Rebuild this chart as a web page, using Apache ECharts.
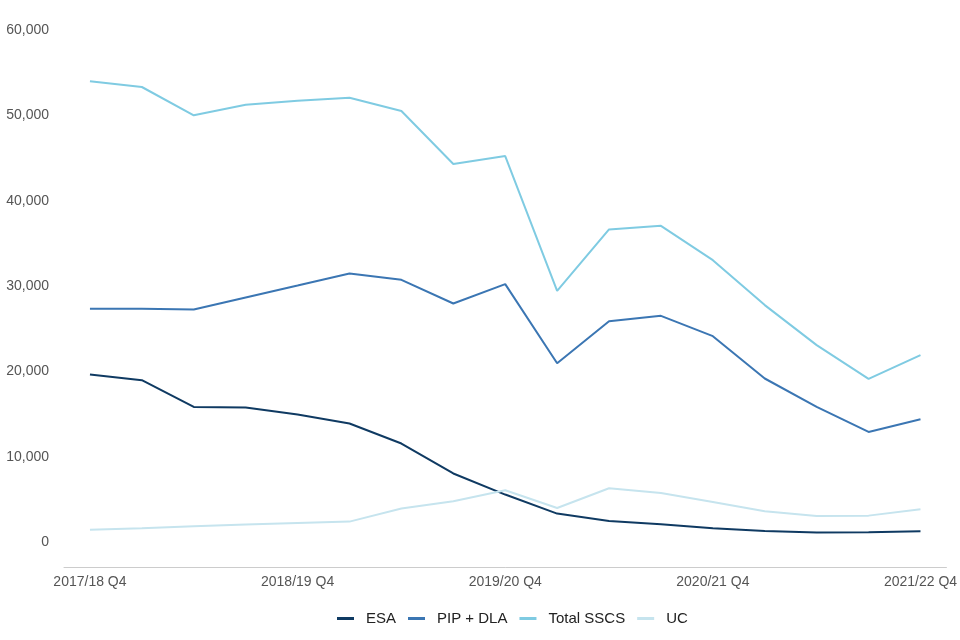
<!DOCTYPE html>
<html>
<head>
<meta charset="utf-8">
<script src="https://cdn.jsdelivr.net/npm/echarts@6/dist/echarts.min.js"></script>
<style>html,body{margin:0;padding:0;background:#fff}#c{width:960px;height:640px}</style>
</head>
<body>
<div id="c"></div>
<script>
const categories = ["2017/18 Q4","2018/19 Q1","2018/19 Q2","2018/19 Q3","2018/19 Q4","2019/20 Q1","2019/20 Q2","2019/20 Q3","2019/20 Q4","2020/21 Q1","2020/21 Q2","2020/21 Q3","2020/21 Q4","2021/22 Q1","2021/22 Q2","2021/22 Q3","2021/22 Q4"];
const esa = [19630,18960,15830,15760,14940,13880,11540,8030,5560,3330,2460,2080,1610,1290,1100,1140,1250];
const pipDla = [27320,27320,27250,28660,30060,31470,30720,27950,30220,20950,25880,26500,24120,19160,15830,12900,14390];
const totalSscs = [53990,53320,50000,51240,51700,52070,50500,44290,45230,29430,36630,37050,33030,27760,23070,19110,21890];
const uc = [1450,1610,1840,2040,2230,2390,3920,4770,6060,3990,6300,5750,4690,3600,3050,3090,3830];
const yTicks = [0,10000,20000,30000,40000,50000,60000];

const chart = echarts.init(document.getElementById('c'), null, {renderer:'canvas'});
const font = '"Liberation Sans", Arial, Helvetica, sans-serif';
function mk(name, data, color){
  return {name:name, type:'line', data:data, symbol:'none', lineStyle:{width:2, color:color}, itemStyle:{color:color}, animation:false};
}
chart.setOption({
  animation:false,
  textStyle:{fontFamily:font},
  grid:{left:64, right:11, top:30, bottom:98},
  legend:{
    bottom:9, left:332, icon:'rect', itemWidth:17, itemHeight:3, itemGap:12,
    textStyle:{fontSize:15, color:'#222', fontFamily:font, padding:[0,0,0,7]},
    data:['ESA','PIP + DLA','Total SSCS','UC']
  },
  xAxis:{
    type:'category', data:categories, boundaryGap:true, offset:25,
    axisLine:{onZero:false, lineStyle:{color:'#cccccc', width:1}},
    axisTick:{show:false},
    axisLabel:{interval:3, fontSize:14, color:'#555', margin:8, fontFamily:font}
  },
  yAxis:{
    type:'value', min:yTicks[0], max:yTicks[yTicks.length-1], interval:10000,
    splitLine:{show:false}, axisLine:{show:false}, axisTick:{show:false},
    axisLabel:{fontSize:14, color:'#555', margin:15, fontFamily:font,
      formatter:function(v){return v.toLocaleString('en-GB');}}
  },
  series:[
    mk('ESA', esa, '#0f3a62'),
    mk('PIP + DLA', pipDla, '#3b76b3'),
    mk('Total SSCS', totalSscs, '#7fcbe2'),
    mk('UC', uc, '#c6e4ee')
  ]
});
</script>
</body>
</html>
